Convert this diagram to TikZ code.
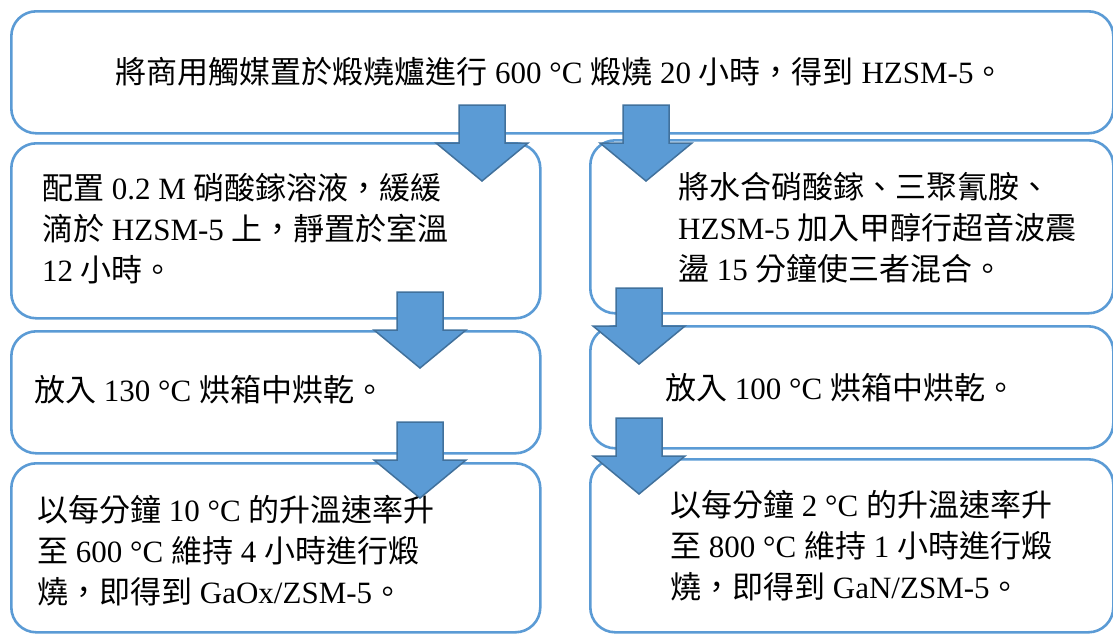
\documentclass[tikz,border=0pt]{standalone}
\usepackage{fontspec}
\setmainfont{Liberation Serif}
\newfontfamily\cjk{Noto Sans CJK TC}
\newcommand{\zh}[1]{{\cjk #1}}
\definecolor{boxblue}{HTML}{5B9BD5}
\definecolor{arrowedge}{HTML}{41719C}
\tikzset{
  box/.style={draw=boxblue, line width=2.6pt, rounded corners=25pt, rectangle, anchor=north west, inner sep=0pt},
  txt/.style={anchor=base west, inner sep=0pt, align=left, font=\fontsize{31}{41}\selectfont},
  blockarrow/.style={fill=boxblue, draw=arrowedge, line width=1.5pt, line join=miter},
}
% #1 centre x, #2 shaft top y
\newcommand{\flowarrow}[2]{%
  \path[blockarrow] (#1-23,#2) -- (#1+23,#2) -- (#1+23,#2+38) -- (#1+46,#2+38)
    -- (#1,#2+76) -- (#1-46,#2+38) -- (#1-23,#2+38) -- cycle;}
\begin{document}
\begin{tikzpicture}[x=1pt,y=-1pt]
\useasboundingbox (0,0) rectangle (1113,633);
\clip (0,0) rectangle (1113,633);
% boxes
\node[box, minimum width=1102pt, minimum height=122pt] (b1) at (10,10) {};
\node[box, minimum width=529pt, minimum height=175pt] (l2) at (10,142) {};
\node[box, minimum width=529pt, minimum height=122pt] (l3) at (10,330) {};
\node[box, minimum width=529pt, minimum height=169pt] (l4) at (10,462) {};
\node[box, minimum width=523pt, minimum height=173pt] (r2) at (589,139) {};
\node[box, minimum width=523pt, minimum height=122pt] (r3) at (589,325) {};
\node[box, minimum width=523pt, minimum height=173pt] (r4) at (589,458) {};
% texts (base = baseline of the last line)
\node[txt, anchor=base] (t1) at (560,83) {\zh{將商用觸媒置於煅燒爐進行} 600 °C \zh{煅燒} 20 \zh{小時，得到} HZSM-5\zh{。}};
\node[txt] (tl2) at (42,281) {\zh{配置} 0.2 M \zh{硝酸鎵溶液，緩緩}\\ \zh{滴於} HZSM-5 \zh{上，靜置於室溫}\\ 12 \zh{小時。}};
\node[txt] (tl3) at (34,401) {\zh{放入} 130 °C \zh{烘箱中烘乾。}};
\node[txt] (tl4) at (37,603) {\zh{以每分鐘} 10 °C \zh{的升溫速率升}\\ \zh{至} 600 °C \zh{維持} 4 \zh{小時進行煅}\\ \zh{燒，即得到} GaOx/ZSM-5\zh{。}};
\node[txt] (tr2) at (678,280) {\zh{將水合硝酸鎵、三聚氰胺、}\\ HZSM-5 \zh{加入甲醇行超音波震}\\ \zh{盪} 15 \zh{分鐘使三者混合。}};
\node[txt] (tr3) at (665,399) {\zh{放入} 100 °C \zh{烘箱中烘乾。}};
\node[txt] (tr4) at (670,598) {\zh{以每分鐘} 2 °C \zh{的升溫速率升}\\ \zh{至} 800 °C \zh{維持} 1 \zh{小時進行煅}\\ \zh{燒，即得到} GaN/ZSM-5\zh{。}};
% arrows
\flowarrow{482}{105}
\flowarrow{646}{105}
\flowarrow{420}{292}
\flowarrow{420}{422}
\flowarrow{639}{288}
\flowarrow{639}{418}
\end{tikzpicture}
\end{document}
